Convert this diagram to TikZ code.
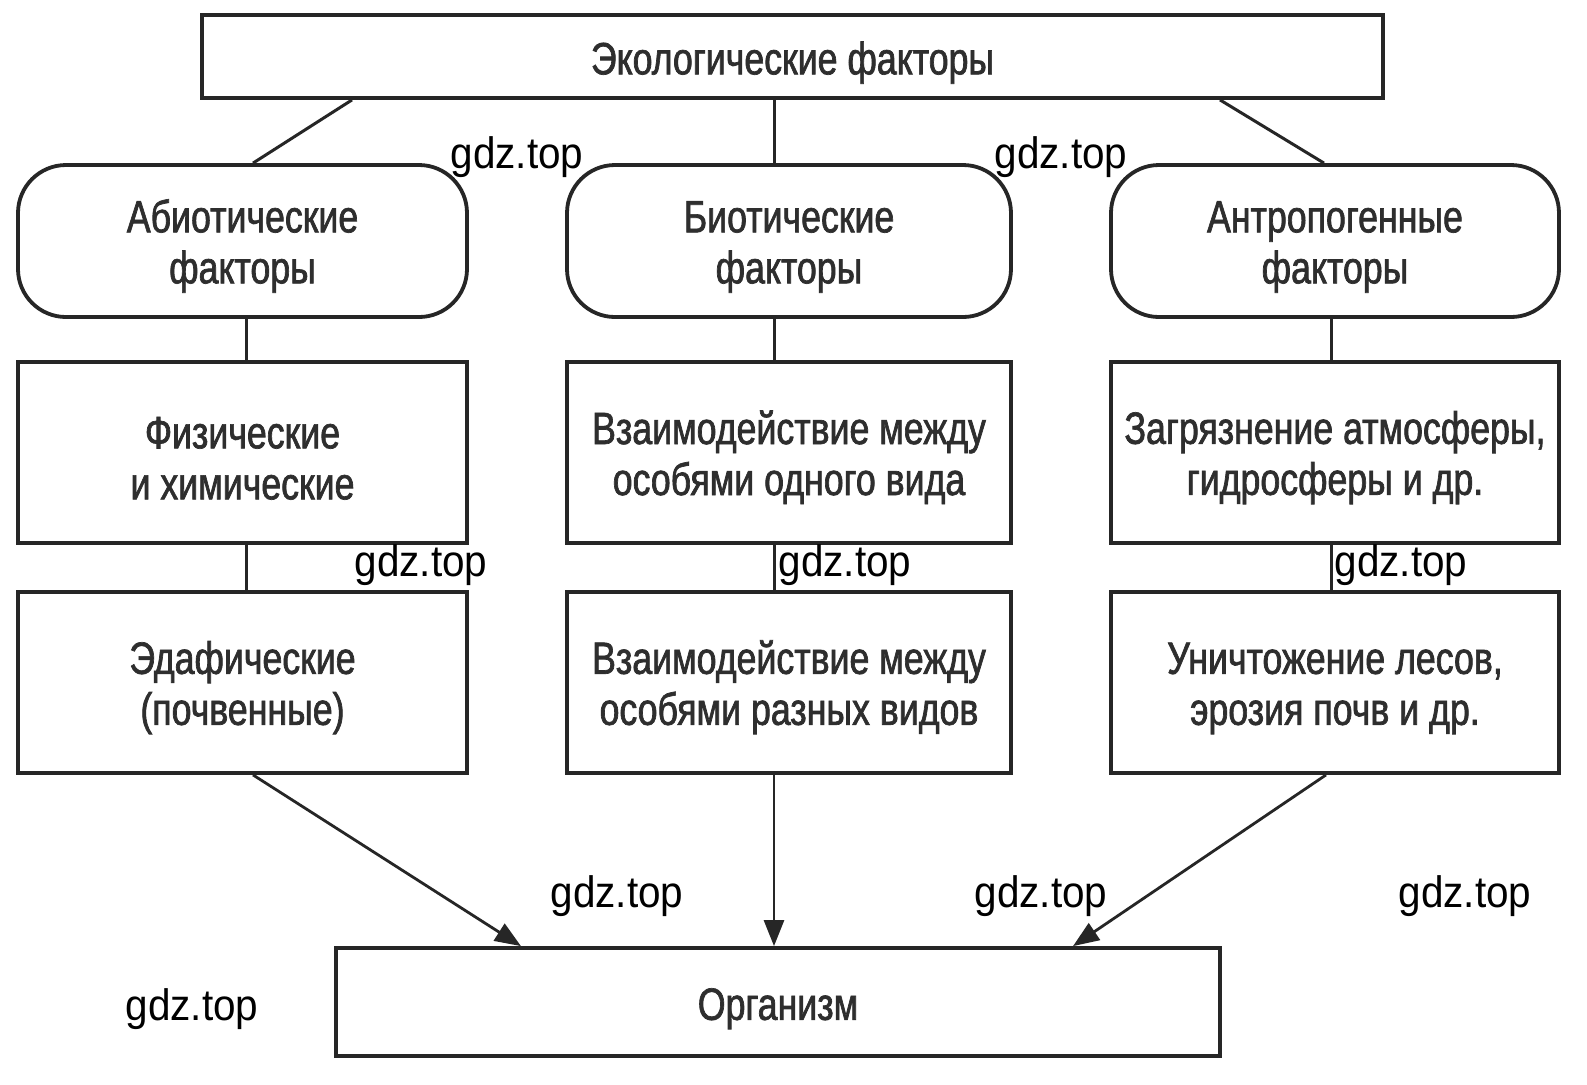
\documentclass[tikz,border=0pt]{standalone}
\usepackage{fontspec}
\setmainfont{Liberation Sans}
\newfontfamily\boxfont[FakeStretch=0.79,FakeBold=1.5]{Liberation Sans}
\newfontfamily\wmfont[FakeStretch=0.92]{Liberation Sans}
\usetikzlibrary{arrows.meta}
\newcommand{\UpOne}{\rule{0pt}{22.5pt}}
\newcommand{\UpTwo}{\rule{0pt}{21.5pt}}
\tikzset{
  sq/.style={draw=black!85, line width=1.9pt, fill=white, rectangle, align=center,
    font=\boxfont\fontsize{22.6pt}{25.5pt}\selectfont, text=black!82,
    inner sep=0pt},
  rnd/.style={sq, rounded corners=24pt},
  conn/.style={draw=black!85, line width=1.5pt},
  arr/.style={conn, line width=1.4pt, -{Triangle[length=13pt,width=10pt]}},
  wm/.style={font=\wmfont\fontsize{22pt}{24pt}\selectfont, text=black, inner sep=0pt}
}
\begin{document}
\begin{tikzpicture}[x=0.5pt,y=-0.5pt]
\useasboundingbox[fill=white] (0,0) rectangle (1587,1084);
% top
\node[sq, minimum width=590.5pt, minimum height=41.5pt] (top) at (792.5,56.5) {\UpOne Экологические факторы};
% rounded
\node[rnd, minimum width=224.5pt, minimum height=76pt] (abio) at (242.5,241) {\UpTwo Абиотические\\факторы};
\node[rnd, minimum width=222pt, minimum height=76pt] (bio) at (789,241) {\UpTwo Биотические\\факторы};
\node[rnd, minimum width=224pt, minimum height=76pt] (antr) at (1335,241) {\UpTwo Антропогенные\\факторы};
% row 1
\node[sq, minimum width=224.5pt, minimum height=90.5pt] (fiz) at (242.5,452.5) {\UpTwo Физические\\и химические};
\node[sq, minimum width=222pt, minimum height=90.5pt] (vz1) at (789,452.5) {\UpTwo Взаимодействие между\\особями одного вида};
\node[sq, minimum width=224pt, minimum height=90.5pt] (zagr) at (1335,452.5) {\UpTwo Загрязнение атмосферы,\\гидросферы и др.};
% row 2
\node[sq, minimum width=224.5pt, minimum height=90.5pt] (edaf) at (242.5,682.5) {\UpTwo Эдафические\\(почвенные)};
\node[sq, minimum width=222pt, minimum height=90.5pt] (vz2) at (789,682.5) {\UpTwo Взаимодействие между\\особями разных видов};
\node[sq, minimum width=224pt, minimum height=90.5pt] (unich) at (1335,682.5) {\UpTwo Уничтожение лесов,\\эрозия почв и др.};
% organism
\node[sq, minimum width=442pt, minimum height=54pt] (org) at (778,1002) {\UpOne Организм};
% connectors
\draw[conn] (top.south -| 352,0) -- (abio.north -| 253,0);
\draw[conn] (top.south -| 774,0) -- (bio.north -| 774,0);
\draw[conn] (top.south -| 1220,0) -- (antr.north -| 1324,0);
\draw[conn] (abio.south -| 246,0) -- (fiz.north -| 246,0);
\draw[conn] (fiz.south -| 246,0) -- (edaf.north -| 246,0);
\draw[conn] (bio.south -| 774,0) -- (vz1.north -| 774,0);
\draw[conn] (vz1.south -| 774,0) -- (vz2.north -| 774,0);
\draw[conn] (antr.south -| 1331,0) -- (zagr.north -| 1331,0);
\draw[conn] (zagr.south -| 1331,0) -- (unich.north -| 1331,0);
\draw[arr] (edaf.south -| 253,0) -- (org.north -| 521,0);
\draw[arr] (vz2.south -| 774,0) -- (org.north -| 774,0);
\draw[arr] (unich.south -| 1326,0) -- (org.north -| 1073,0);
% watermarks
\node[wm] (w1) at (517,157) {gdz.top};
\node[wm] (w2) at (1061,157) {gdz.top};
\node[wm] (w3) at (421,565) {gdz.top};
\node[wm] (w4) at (845,565) {gdz.top};
\node[wm] (w5) at (1401,565) {gdz.top};
\node[wm] (w6) at (617,896) {gdz.top};
\node[wm] (w7) at (1041,896) {gdz.top};
\node[wm] (w8) at (1465,896) {gdz.top};
\node[wm] (w9) at (192,1009) {gdz.top};
\end{tikzpicture}
\end{document}
